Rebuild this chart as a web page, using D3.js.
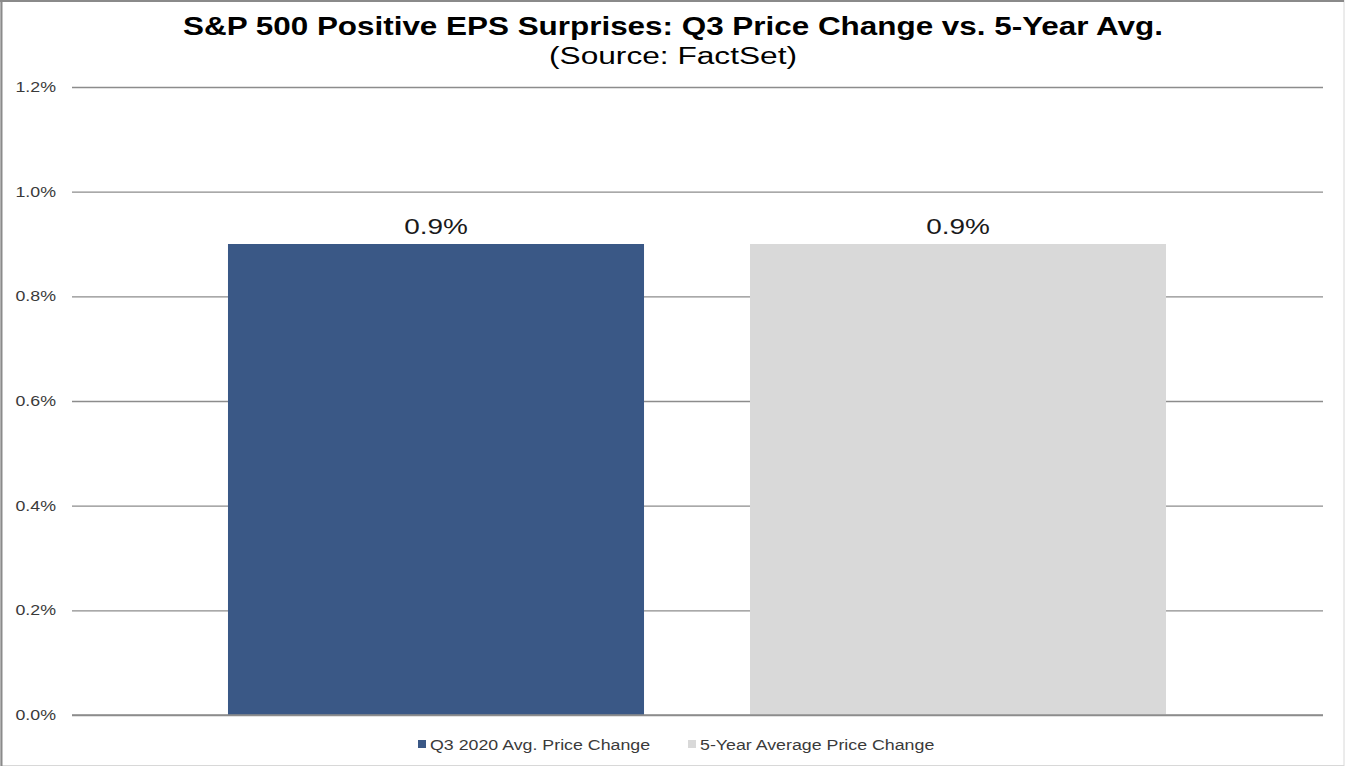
<!DOCTYPE html>
<html>
<head>
<meta charset="utf-8">
<script src="https://cdn.jsdelivr.net/npm/d3@7"></script>
<style>
html, body { margin: 0; padding: 0; background: #fff; }
svg { display: block; }
</style>
</head>
<body>
<svg id="chart" width="1345" height="767"></svg>
<script>
const categories = ["Q3 2020 Avg. Price Change", "5-Year Average Price Change"];
const values = [0.009, 0.009];
const valueLabels = ["0.9%", "0.9%"];
const colors = ["#3a5886", "#d9d9d9"];
const yTicks = [0, 0.002, 0.004, 0.006, 0.008, 0.010, 0.012];
const title = "S&P 500 Positive EPS Surprises: Q3 Price Change vs. 5-Year Avg.";
const subtitle = "(Source: FactSet)";

const svg = d3.select("#chart");
const W = 1345, H = 767;
const font = "Liberation Sans, Arial, sans-serif";
const stretch = 1.27;

function fit(sel) {
  sel.each(function () {
    const len = this.getComputedTextLength();
    d3.select(this).attr("textLength", len * stretch).attr("lengthAdjust", "spacingAndGlyphs");
  });
}

// border
svg.append("rect").attr("x", 0.5).attr("y", 0.5).attr("width", W - 1.5).attr("height", H - 2)
  .attr("fill", "#fff").attr("stroke", "#d8d8d8").attr("stroke-width", 1);
svg.append("line").attr("x1", 1.5).attr("x2", 1.5).attr("y1", 0).attr("y2", H - 1)
  .attr("stroke", "#8a8a8a").attr("stroke-width", 2);
svg.append("line").attr("x1", 0).attr("x2", W - 1).attr("y1", 1).attr("y2", 1)
  .attr("stroke", "#8a8a8a").attr("stroke-width", 2);

const plotLeft = 72, plotRight = 1323, plotTop = 87, plotBottom = 715;

const y = d3.scaleLinear().domain([0, 0.012]).range([plotBottom, plotTop]);
const x = d3.scaleBand().domain(categories).range([175, 1219])
  .paddingInner(0.203).paddingOuter(0.1015);

// gridlines
const yAxis = d3.axisLeft(y).tickValues(yTicks)
  .tickFormat(d => (d * 100).toFixed(1) + "%")
  .tickSize(-(plotRight - plotLeft)).tickPadding(16);
const gAxis = svg.append("g").attr("transform", `translate(${plotLeft},0)`).call(yAxis);
gAxis.select(".domain").remove();
gAxis.selectAll(".tick line").attr("stroke", "#8c8c8c").attr("stroke-width", 1.3);
gAxis.selectAll(".tick text").attr("font-family", font).attr("font-size", 14)
  .attr("fill", "#3a3a3a").attr("x", -16).call(fit);

// bars
svg.selectAll("rect.bar").data(categories).enter().append("rect")
  .attr("class", "bar")
  .attr("x", d => x(d))
  .attr("width", x.bandwidth())
  .attr("y", (d, i) => y(values[i]))
  .attr("height", (d, i) => y(0) - y(values[i]))
  .attr("fill", (d, i) => colors[i]);

// redraw baseline above bars
svg.append("line").attr("x1", plotLeft).attr("x2", plotRight)
  .attr("y1", y(0)).attr("y2", y(0)).attr("stroke", "#8c8c8c").attr("stroke-width", 1.3);

// value labels
svg.selectAll("text.val").data(categories).enter().append("text")
  .attr("class", "val")
  .attr("x", d => x(d) + x.bandwidth() / 2)
  .attr("y", (d, i) => y(values[i]) - 10)
  .attr("text-anchor", "middle")
  .attr("font-family", font).attr("font-size", 22).attr("fill", "#1a1a1a")
  .text((d, i) => valueLabels[i]).call(fit);

// title
svg.append("text").attr("x", 673).attr("y", 35).attr("text-anchor", "middle")
  .attr("font-family", font).attr("font-size", 25).attr("font-weight", "bold")
  .attr("fill", "#000").text(title)
  .attr("textLength", 980).attr("lengthAdjust", "spacingAndGlyphs");
svg.append("text").attr("x", 673).attr("y", 64).attr("text-anchor", "middle")
  .attr("font-family", font).attr("font-size", 23).attr("fill", "#000").text(subtitle)
  .attr("textLength", 248).attr("lengthAdjust", "spacingAndGlyphs");

// legend
const legendX = [418, 688];
const lg = svg.selectAll("g.leg").data(categories).enter().append("g")
  .attr("class", "leg")
  .attr("transform", (d, i) => `translate(${legendX[i]},745)`);
lg.append("rect").attr("x", 0).attr("y", -5).attr("width", 8).attr("height", 8)
  .attr("fill", (d, i) => colors[i]);
lg.append("text").attr("x", (d, i) => i === 0 ? 12 : 12).attr("y", 5)
  .attr("font-family", font).attr("font-size", 14).attr("fill", "#3a3a3a")
  .text(d => d).call(fit);
</script>
</body>
</html>
